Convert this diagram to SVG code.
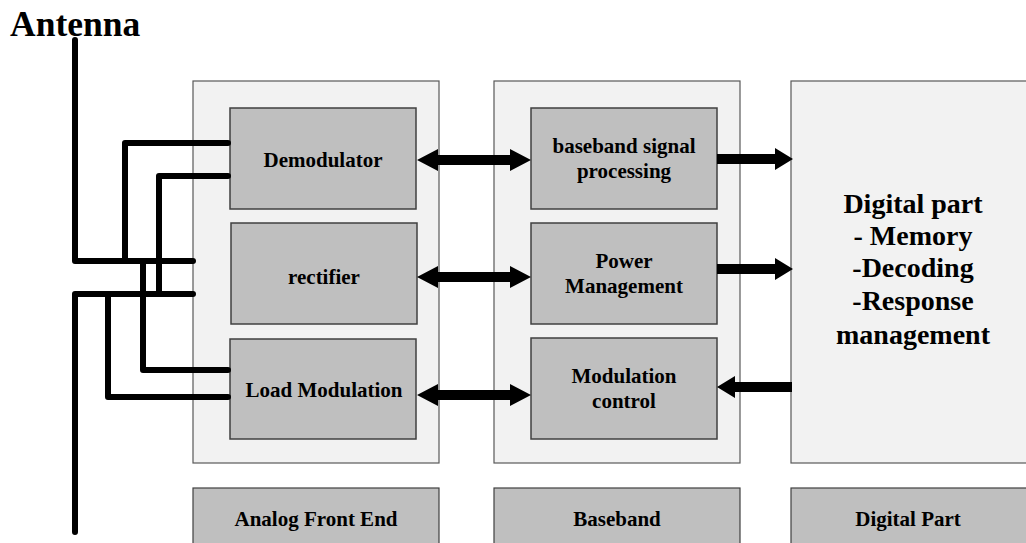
<svg xmlns="http://www.w3.org/2000/svg" width="1026" height="543" viewBox="0 0 1026 543">
<style>
.outer{fill:#f2f2f2;stroke:#595959;stroke-width:1.2}
.inner{fill:#bfbfbf;stroke:#404040;stroke-width:1.5}
.lbl{fill:#bfbfbf;stroke:#404040;stroke-width:1.2}
.t{font-family:"Liberation Serif","Times New Roman",serif;font-weight:bold;fill:#000;text-anchor:middle}
.wire{fill:none;stroke:#000;stroke-width:6;stroke-linecap:round;stroke-linejoin:round}
.arr{fill:#000}
</style>
<rect width="1026" height="543" fill="#fff"/>
<g id="analog-block"><rect class="outer" x="193" y="81" width="246" height="382"/></g>
<g id="baseband-block"><rect class="outer" x="494" y="81" width="246" height="382"/></g>
<g id="digital-block"><rect class="outer" x="791" y="81" width="240" height="382"/>
<text class="t" font-size="28" x="913" y="213">Digital part<tspan x="913" dy="32">- Memory</tspan><tspan x="913" dy="32">-Decoding</tspan><tspan x="913" dy="33">-Response</tspan><tspan x="913" dy="34">management</tspan></text></g>
<g id="demodulator"><rect class="inner" x="230" y="108" width="186" height="101"/><text class="t" font-size="21" x="323" y="167">Demodulator</text></g>
<g id="rectifier"><rect class="inner" x="231" y="223" width="186" height="101"/><text class="t" font-size="21" x="324" y="284">rectifier</text></g>
<g id="load-modulation"><rect class="inner" x="230" y="339" width="186" height="100"/><text class="t" font-size="21" x="324" y="397">Load Modulation</text></g>
<g id="baseband-signal"><rect class="inner" x="531" y="108" width="186" height="101"/><text class="t" font-size="21" x="624" y="153">baseband signal<tspan x="624" dy="25">processing</tspan></text></g>
<g id="power-management"><rect class="inner" x="531" y="223" width="186" height="101"/><text class="t" font-size="21" x="624" y="268">Power<tspan x="624" dy="25">Management</tspan></text></g>
<g id="modulation-control"><rect class="inner" x="531" y="338" width="186" height="101"/><text class="t" font-size="21" x="624" y="383">Modulation<tspan x="624" dy="25">control</tspan></text></g>
<g id="label-analog"><rect class="lbl" x="193" y="488" width="246" height="60"/><text class="t" font-size="21" x="316" y="526">Analog Front End</text></g>
<g id="label-baseband"><rect class="lbl" x="494" y="488" width="246" height="60"/><text class="t" font-size="21" x="617" y="526">Baseband</text></g>
<g id="label-digital"><rect class="lbl" x="791" y="488" width="240" height="60"/><text class="t" font-size="21" x="908" y="526">Digital Part</text></g>
<g id="antenna"><text class="t" font-size="35.5" x="10" y="36" style="text-anchor:start">Antenna</text></g>
<g id="connectors">
<path class="wire" d="M75,40 V261 H193"/>
<path class="wire" d="M75,532 V294 H193"/>
<path class="wire" d="M228,143 H125 V261"/>
<path class="wire" d="M228,176 H159 V294"/>
<path class="wire" d="M228,370 H143 V261"/>
<path class="wire" d="M228,397 H108 V294"/>
<polygon class="arr" points="417,160 438,149 438,155 510,155 510,149 531,160 510,171 510,165 438,165 438,171"/>
<polygon class="arr" points="417,277 438,266 438,272 510,272 510,266 531,277 510,288 510,282 438,282 438,288"/>
<polygon class="arr" points="417,395 438,384 438,390 510,390 510,384 531,395 510,406 510,400 438,400 438,406"/>
<polygon class="arr" points="717,154 775,154 775,148 793,159 775,170 775,164 717,164"/>
<polygon class="arr" points="717,264 775,264 775,258 793,269 775,280 775,274 717,274"/>
<polygon class="arr" points="792,382 735,382 735,376 717,387 735,398 735,392 792,392"/>
</g>
</svg>
